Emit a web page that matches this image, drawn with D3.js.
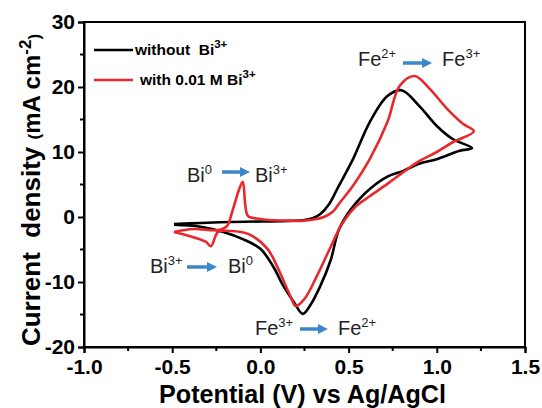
<!DOCTYPE html>
<html>
<head>
<meta charset="utf-8">
<script src="https://cdn.jsdelivr.net/npm/d3@7"></script>
<style>
  html, body { margin: 0; padding: 0; background: #fff; }
  svg { display: block; }
  text { font-family: Arial, "Liberation Sans", sans-serif; white-space: pre; }
</style>
</head>
<body>
<svg id="chart" width="542" height="408"></svg>
<script>
// ---------------- data ----------------
const blackV = [-0.49,-0.34,-0.17,0.0,0.17,0.25,0.30,0.34,0.39,0.435,0.525,0.62,0.72,0.80,0.90,1.0,1.09,1.2,
                1.13,1.0,0.90,0.81,0.72,0.62,0.54,0.49,0.44,0.40,0.34,0.28,0.24,0.19,0.13,0.07,0.0,-0.1,-0.21,-0.34,-0.49];
const blackI = [-1.08,-0.92,-0.77,-0.69,-0.6,-0.46,-0.15,0.46,2.0,4.3,8.9,14.6,18.6,19.5,17.1,14.0,12.0,10.6,
                10.2,8.9,8.2,7.1,6.2,4.3,2.1,0.3,-2.3,-6.5,-10.6,-13.7,-14.9,-13.1,-10.6,-7.5,-4.9,-3.4,-2.3,-1.5,-1.2];
const redV = [-0.49,-0.38,-0.24,-0.19,-0.16,-0.12,-0.10,-0.085,-0.07,0.0,0.11,0.23,0.31,0.36,0.41,0.45,0.525,0.62,0.72,0.79,0.875,0.96,1.06,1.15,1.21,
              1.09,1.0,0.90,0.81,0.72,0.62,0.54,0.46,0.40,0.32,0.25,0.20,0.17,0.11,0.04,-0.07,-0.17,-0.24,-0.28,-0.31,-0.38,-0.49];
const redI = [-2.3,-1.85,-2.0,-1.4,0.8,4.3,5.4,1.7,0.15,-0.3,-0.55,-0.6,-0.35,0.0,0.8,2.2,4.8,8.9,14.6,20.2,21.7,19.7,16.6,14.3,13.2,
              11.5,10.0,8.6,6.9,5.1,3.2,1.6,-1.2,-4.5,-9.1,-12.6,-13.7,-12.2,-8.5,-4.9,-2.6,-2.15,-2.3,-4.5,-3.8,-3.1,-2.3];

const xTicks = [-1.0,-0.5,0.0,0.5,1.0,1.5];
const yTicks = [-20,-10,0,10,20,30];
const seriesNames = ["without  Bi", "with 0.01 M Bi"];
const seriesSup = ["3+", "3+"];

// annotation layout in data units (left label, arrow, right label)
const annotations = [
  {l:"Fe", ls:"2+", r:"Fe", rs:"3+", lx:0.553, ax1:0.808, ax2:0.973, rx:1.03, by:23.23, ay:23.69},
  {l:"Bi", ls:"0",  r:"Bi", rs:"3+", lx:-0.416, ax1:-0.218, ax2:-0.059, rx:-0.031, by:5.38, ay:6.92},
  {l:"Bi", ls:"3+", r:"Bi", rs:"0",  lx:-0.626, ax1:-0.416, ax2:-0.246, rx:-0.184, by:-8.62, ay:-7.69},
  {l:"Fe", ls:"3+", r:"Fe", rs:"2+", lx:-0.031, ax1:0.224, ax2:0.383, rx:0.44, by:-18.15, ay:-17.23}
];

// ---------------- drawing ----------------
const svg = d3.select("#chart");
const L = 84, R = 525, T = 22, B = 347;
const x = d3.scaleLinear().domain([-1, 1.5]).range([L, R]);
const y = d3.scaleLinear().domain([-20, 30]).range([B, T]);

const colors = ["#000000", "#e8282c"];

// curves
const line = d3.line().x(d => x(d[0])).y(d => y(d[1])).curve(d3.curveCatmullRom.alpha(0.5));
const blackData = blackV.map((v, i) => [v, blackI[i]]);
const redData = redV.map((v, i) => [v, redI[i]]);
svg.append("path").attr("d", line(blackData)).attr("fill", "none")
   .attr("stroke", colors[0]).attr("stroke-width", 2.6).attr("stroke-linejoin", "round");
svg.append("path").attr("d", line(redData)).attr("fill", "none")
   .attr("stroke", colors[1]).attr("stroke-width", 2.6).attr("stroke-linejoin", "round");

// frame
svg.append("rect").attr("x", L).attr("y", T).attr("width", R - L).attr("height", B - T)
   .attr("fill", "none").attr("stroke", "#000").attr("stroke-width", 2);

// axes
const xAxis = d3.axisBottom(x).tickValues(xTicks).tickFormat(d3.format(".1f")).tickSize(6).tickPadding(6);
const yAxis = d3.axisLeft(y).tickValues(yTicks).tickFormat(d3.format("d")).tickSize(6).tickPadding(3);
const gx = svg.append("g").attr("transform", `translate(0,${B})`).call(xAxis);
const gy = svg.append("g").attr("transform", `translate(${L},0)`).call(yAxis);
[gx, gy].forEach(g => {
  g.select(".domain").attr("stroke-width", 2);
  g.selectAll(".tick line").attr("stroke-width", 2);
  g.selectAll(".tick text").attr("font-size", 21).attr("font-weight", "bold")
    .attr("font-family", "Arial, 'Liberation Sans', sans-serif").attr("fill", "#000");
});
gx.selectAll(".tick text").text(d => d3.format(".1f")(d).replace("−", "-"));
gy.selectAll(".tick text").text(d => String(d).replace("−", "-"));

// minor ticks
const xMinor = d3.range(-0.75, 1.5, 0.5);
const yMinor = d3.range(-15, 30, 10);
svg.append("g").selectAll("line").data(xMinor).join("line")
  .attr("x1", d => x(d)).attr("x2", d => x(d)).attr("y1", B).attr("y2", B + 4)
  .attr("stroke", "#000").attr("stroke-width", 2);
svg.append("g").selectAll("line").data(yMinor).join("line")
  .attr("y1", d => y(d)).attr("y2", d => y(d)).attr("x1", L).attr("x2", L - 4)
  .attr("stroke", "#000").attr("stroke-width", 2);

// axis titles
svg.append("text").attr("x", (L + R) / 2 - 2).attr("y", 403).attr("text-anchor", "middle")
  .attr("font-size", 25).attr("font-weight", "bold").attr("textLength", 287)
  .attr("lengthAdjust", "spacingAndGlyphs").text("Potential (V) vs Ag/AgCl");

const yt = svg.append("text").attr("transform", "translate(40,190) rotate(-90)")
  .attr("text-anchor", "middle").attr("font-weight", "bold");
yt.append("tspan").attr("font-size", 26).text("Current  density ");
yt.append("tspan").attr("font-size", 17).text("(");
yt.append("tspan").attr("font-size", 24).text("mA cm");
yt.append("tspan").attr("font-size", 17).attr("dy", -9).text("-2");
yt.append("tspan").attr("font-size", 17).attr("dy", 9).text(")");

// legend
const legY = [50, 80];
const legTX = [135, 140];
seriesNames.forEach((name, i) => {
  svg.append("line").attr("x1", 94).attr("x2", 133).attr("y1", legY[i]).attr("y2", legY[i])
    .attr("stroke", colors[i]).attr("stroke-width", 2.6);
  const t = svg.append("text").attr("x", legTX[i]).attr("y", legY[i] + 5)
    .attr("font-size", 15.5).attr("font-weight", "bold");
  t.append("tspan").text(name);
  t.append("tspan").attr("font-size", 11.5).attr("dy", -7).text(seriesSup[i]);
});

// annotations
const arrowColor = "#3b87c9";
annotations.forEach(a => {
  const lt = svg.append("text").attr("x", x(a.lx)).attr("y", y(a.by)).attr("font-size", 20).attr("fill", "#222");
  lt.append("tspan").text(a.l);
  lt.append("tspan").attr("font-size", 13).attr("dy", -8).text(a.ls);
  const rt = svg.append("text").attr("x", x(a.rx)).attr("y", y(a.by)).attr("font-size", 20).attr("fill", "#222");
  rt.append("tspan").text(a.r);
  rt.append("tspan").attr("font-size", 13).attr("dy", -8).text(a.rs);
  const x1 = x(a.ax1), x2 = x(a.ax2), ay = y(a.ay);
  svg.append("line").attr("x1", x1).attr("x2", x2 - 8).attr("y1", ay).attr("y2", ay)
    .attr("stroke", arrowColor).attr("stroke-width", 3.5);
  svg.append("path").attr("d", `M${x2},${ay} L${x2 - 10},${ay - 5} L${x2 - 10},${ay + 5} Z`)
    .attr("fill", arrowColor);
});
</script>
</body>
</html>
